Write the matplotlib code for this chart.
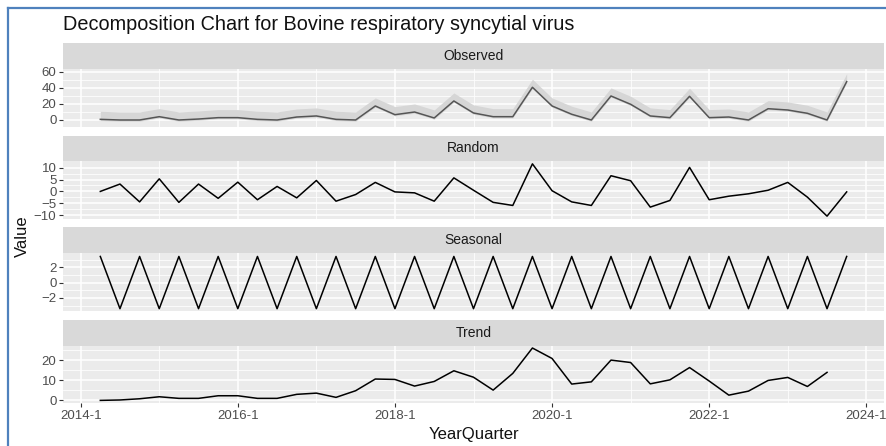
import matplotlib
matplotlib.use("Agg")
import matplotlib.pyplot as plt
from matplotlib.lines import Line2D
import numpy as np

plt.rcParams['font.family'] = ['Liberation Sans', 'DejaVu Sans']

# ---- data (quarterly, 2014-2 .. 2023-4) ----
first_year, first_q, n_periods = 2014, 2, 39
observed = [0.8, 0, 0, 4.1, 0, 1.2, 2.9, 2.9, 0.8, 0, 3.7, 5.0, 0.8, 0, 17.4, 6.6,
            9.9, 2.5, 23.6, 8.7, 4.1, 4.1, 40.6, 17.4, 7.1, 0, 29.8, 19.5, 5.0, 2.9,
            29.4, 2.9, 3.7, 0, 14.0, 12.4, 8.3, 0, 47.6]
random_c = [0, 3.1, -4.4, 5.3, -4.6, 3.1, -2.9, 3.9, -3.5, 2.1, -2.7, 4.6, -4.1, -1.3,
            3.8, -0.2, -0.6, -4.1, 5.7, 0.5, -4.6, -5.9, 11.6, 0.3, -4.4, -5.9, 6.6,
            4.5, -6.6, -3.8, 10.1, -3.5, -2.0, -1.0, 0.5, 3.8, -2.4, -10.4, -0.2]
seasonal = [3.4, -3.4, 3.4, -3.4, 3.4, -3.4, 3.4, -3.4, 3.4, -3.4, 3.4, -3.4, 3.4,
            -3.4, 3.4, -3.4, 3.4, -3.4, 3.4, -3.4, 3.4, -3.4, 3.4, -3.4, 3.4, -3.4,
            3.4, -3.4, 3.4, -3.4, 3.4, -3.4, 3.4, -3.4, 3.4, -3.4, 3.4, -3.4, 3.4]
trend = [0, 0.2, 0.8, 1.8, 1.0, 1.0, 2.3, 2.3, 1.0, 1.0, 3.0, 3.6, 1.5, 4.8, 10.6,
         10.4, 7.1, 9.4, 14.7, 11.5, 5.1, 13.4, 26.0, 20.8, 8.1, 9.2, 20.0, 18.8, 8.2,
         10.2, 16.3, 9.6, 2.6, 4.6, 9.9, 11.4, 6.9, 13.9, np.nan]
x_tick_years = [2014, 2016, 2018, 2020, 2022, 2024]
x_tick_labels = ["2014-1", "2016-1", "2018-1", "2020-1", "2022-1", "2024-1"]
title = "Decomposition Chart for Bovine respiratory syncytial virus"

# time index
x = []
for i in range(n_periods):
    k = (first_q - 1) + i
    x.append(first_year + (k // 4) + (k % 4) / 4.0)
x = np.array(x)

W, H = 886, 446
fig = plt.figure(figsize=(W / 100, H / 100), dpi=100)
fig.patch.set_facecolor('white')

L, R = 63, 884
xlim = (x[0] - 0.05 * (x[-1] - x[0]), x[-1] + 0.05 * (x[-1] - x[0]))

panels = [
    ("Observed", observed, (43, 69, 127), (-8.7, 63.3), [0, 20, 40, 60], [10, 30, 50]),
    ("Random", random_c, (136, 161, 219), (-11.6, 12.8), [-10, -5, 0, 5, 10], [-7.5, -2.5, 2.5, 7.5]),
    ("Seasonal", seasonal, (227, 253, 311), (-3.7, 3.85), [-2, 0, 2], [-3, -1, 1, 3]),
    ("Trend", trend, (320, 346, 403), (-1.3, 27), [0, 10, 20], [5, 15, 25]),
]

def rect(top, bottom):
    return [L / W, 1 - bottom / H, (R - L) / W, (bottom - top) / H]

for idx, (name, vals, (st, pt, pb), ylim, yt, ymin) in enumerate(panels):
    # strip
    sax = fig.add_axes(rect(st, pt))
    sax.set_facecolor('#D9D9D9')
    sax.set_xticks([]); sax.set_yticks([])
    for s in sax.spines.values():
        s.set_visible(False)
    sax.text(0.5, 0.5, name, ha='center', va='center', fontsize=10, color='#1A1A1A',
             transform=sax.transAxes)

    ax = fig.add_axes(rect(pt, pb))
    ax.set_facecolor('#EBEBEB')
    for s in ax.spines.values():
        s.set_visible(False)
    ax.set_xlim(*xlim)
    ax.set_ylim(*ylim)
    ax.set_yticks(yt)
    ax.set_yticks(ymin, minor=True)
    ax.set_xticks(x_tick_years)
    ax.set_xticks([2015, 2017, 2019, 2021, 2023], minor=True)
    ax.grid(True, which='major', color='white', lw=1.1)
    ax.grid(True, which='minor', color='white', lw=0.55)
    ax.set_axisbelow(True)
    ax.tick_params(axis='y', which='major', length=2.75, width=0.8, color='#333333',
                   labelsize=9.5, labelcolor='#4D4D4D', pad=2)
    ax.tick_params(which='minor', length=0)
    if idx == 3:
        ax.set_xticklabels(x_tick_labels)
        ax.tick_params(axis='x', which='major', length=2.75, width=0.8, color='#333333',
                       labelsize=9.5, labelcolor='#4D4D4D', pad=2)
    else:
        ax.tick_params(axis='x', which='major', length=0, labelbottom=False)

    v = np.array(vals, dtype=float)
    if name == "Observed":
        ax.fill_between(x, v - 1.5, v + 10, color='#D6D6D6', lw=0, zorder=2)
        ax.plot(x, v, color='#555555', lw=1.1, zorder=3)
    else:
        ax.plot(x, v, color='black', lw=1.1, zorder=3)

fig.text(L / W, 1 - 25 / H, title, ha='left', va='center', fontsize=14.3, color='#111111')
fig.text((L + R) / 2 / W, 1 - 434 / H, "YearQuarter", ha='center', va='center',
         fontsize=12, color='#111111')
fig.text(22 / W, 1 - 236 / H, "Value", ha='center', va='center', rotation=90,
         fontsize=12, color='#111111')

# screenshot frame
blue = '#4F81BD'
fig.add_artist(Line2D([8 / W, 1], [1 - 7.5 / H, 1 - 7.5 / H], color=blue, lw=1.6,
                      transform=fig.transFigure))
fig.add_artist(Line2D([8 / W, 8 / W], [0, 1 - 7.5 / H], color=blue, lw=1.6,
                      transform=fig.transFigure))

fig.savefig("out.png", dpi=100)
